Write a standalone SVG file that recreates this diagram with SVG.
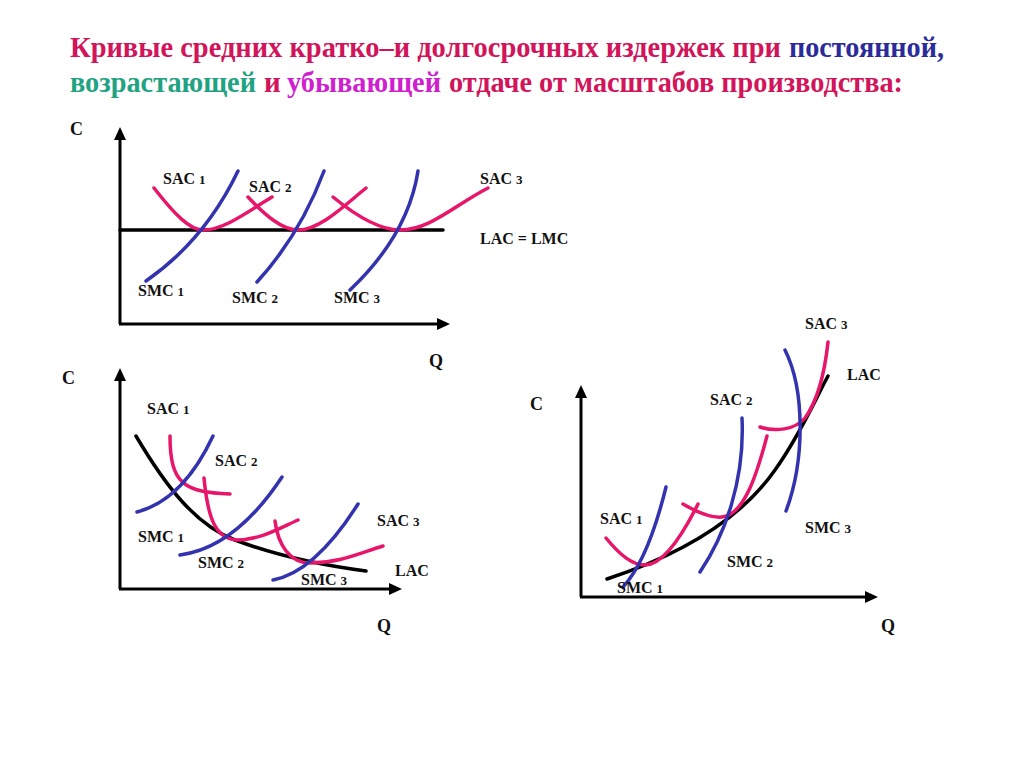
<svg xmlns="http://www.w3.org/2000/svg" width="1024" height="768" viewBox="0 0 1024 768">
<style>
.title{font-family:"Liberation Serif","DejaVu Serif",serif;font-weight:bold;font-size:29px}
.cr{fill:#d2145a}.bl{fill:#2b2b9c}.gr{fill:#1fa382}.mg{fill:#cf1fcf}
.lbl{font-family:"Liberation Serif","DejaVu Serif",serif;font-weight:bold;font-size:16px;fill:#111}
.ax{font-family:"Liberation Serif","DejaVu Serif",serif;font-weight:bold;font-size:18px;fill:#111}
.d{font-size:13px}
.axis{stroke:#000;stroke-width:3;fill:none}
.lac{stroke:#000;stroke-width:3.5;fill:none;stroke-linecap:round}
.sac{stroke:#e8166a;stroke-width:3.5;fill:none;stroke-linecap:round}
.smc{stroke:#3333b0;stroke-width:3.5;fill:none;stroke-linecap:round}
</style>
<defs>
<marker id="arr" markerUnits="userSpaceOnUse" markerWidth="14" markerHeight="12" refX="4" refY="6" orient="auto">
<path d="M0,0 L13,6 L0,12 z" fill="#000"/>
</marker>
</defs>
<rect width="1024" height="768" fill="#fff"/>
<g id="title">
<text class="title cr" x="70" y="57" textLength="711" lengthAdjust="spacingAndGlyphs">Кривые средних кратко–и долгосрочных издержек при</text>
<text class="title bl" x="789" y="57" textLength="155" lengthAdjust="spacingAndGlyphs">постоянной,</text>
<text class="title gr" x="70" y="92" textLength="186" lengthAdjust="spacingAndGlyphs">возрастающей</text>
<text class="title cr" x="264" y="92">и</text>
<text class="title mg" x="287" y="92" textLength="154" lengthAdjust="spacingAndGlyphs">убывающей</text>
<text class="title cr" x="449" y="92" textLength="454" lengthAdjust="spacingAndGlyphs">отдаче от масштабов производства:</text>
</g>
<g id="chart1">
<g id="axes1">
<line class="axis" x1="120" y1="324" x2="120" y2="136" marker-end="url(#arr)"/>
<line class="axis" x1="119" y1="324" x2="441" y2="324" marker-end="url(#arr)"/>
<text class="ax" x="70" y="135">C</text>
<text class="ax" x="429" y="367">Q</text>
</g>
<g id="lac1"><line class="lac" x1="120" y1="230" x2="443" y2="230"/></g>
<g id="sac1a"><path class="sac" d="M154,188 C175,215 190,230 203,230 C225,230 250,210 272,197"/></g>
<g id="sac1b"><path class="sac" d="M248,197 C265,215 282,230 298,230 C320,230 345,205 366,188"/></g>
<g id="sac1c"><path class="sac" d="M333,197 C355,215 380,230 400,230 C430,230 455,205 488,188"/></g>
<g id="smc1a"><path class="smc" d="M146,281 Q205,240 238,171"/></g>
<g id="smc1b"><path class="smc" d="M257,282 Q300,235 324,171"/></g>
<g id="smc1c"><path class="smc" d="M350,290 Q408,235 418,171"/></g>
<g id="labels1">
<text class="lbl" x="163" y="184">SAC <tspan class="d">1</tspan></text>
<text class="lbl" x="249" y="192">SAC <tspan class="d">2</tspan></text>
<text class="lbl" x="480" y="184">SAC <tspan class="d">3</tspan></text>
<text class="lbl" x="480" y="244">LAC = LMC</text>
<text class="lbl" x="138" y="296">SMC <tspan class="d">1</tspan></text>
<text class="lbl" x="232" y="303">SMC <tspan class="d">2</tspan></text>
<text class="lbl" x="334" y="303">SMC <tspan class="d">3</tspan></text>
</g>
</g>
<g id="chart2">
<g id="axes2">
<line class="axis" x1="120" y1="589" x2="120" y2="377" marker-end="url(#arr)"/>
<line class="axis" x1="119" y1="589" x2="393" y2="589" marker-end="url(#arr)"/>
<text class="ax" x="62" y="384">C</text>
<text class="ax" x="377" y="632">Q</text>
</g>
<g id="lac2"><path class="lac" d="M136,436 C165,485 195,525 235,540 C275,555 320,565 366,571"/></g>
<g id="sac2a"><path class="sac" d="M170,436 C170,485 185,492 230,494"/></g>
<g id="sac2b"><path class="sac" d="M204,478 C208,520 216,538 236,540 C260,540 280,528 298,520"/></g>
<g id="sac2c"><path class="sac" d="M275,521 C278,545 290,563 310,563 C340,563 360,553 383,546"/></g>
<g id="smc2a"><path class="smc" d="M137,512 Q183,500 213,436"/></g>
<g id="smc2b"><path class="smc" d="M180,555 Q235,548 282,477"/></g>
<g id="smc2c"><path class="smc" d="M273,580 Q315,572 358,504"/></g>
<g id="labels2">
<text class="lbl" x="147" y="414">SAC <tspan class="d">1</tspan></text>
<text class="lbl" x="215" y="466">SAC <tspan class="d">2</tspan></text>
<text class="lbl" x="377" y="526">SAC <tspan class="d">3</tspan></text>
<text class="lbl" x="138" y="542">SMC <tspan class="d">1</tspan></text>
<text class="lbl" x="198" y="568">SMC <tspan class="d">2</tspan></text>
<text class="lbl" x="301" y="585">SMC <tspan class="d">3</tspan></text>
<text class="lbl" x="395" y="576">LAC</text>
</g>
</g>
<g id="chart3">
<g id="axes3">
<line class="axis" x1="581" y1="597" x2="581" y2="394" marker-end="url(#arr)"/>
<line class="axis" x1="580" y1="597" x2="869" y2="597" marker-end="url(#arr)"/>
<text class="ax" x="530" y="410">C</text>
<text class="ax" x="881" y="632">Q</text>
</g>
<g id="lac3"><path class="lac" d="M607,579 C680,555 740,520 775,470 C800,435 815,400 828,376"/></g>
<g id="sac3a"><path class="sac" d="M606,538 C620,555 632,565 645,565 C665,565 685,530 698,504"/></g>
<g id="sac3b"><path class="sac" d="M683,504 C700,514 712,518 722,517 C745,515 758,470 767,436"/></g>
<g id="sac3c"><path class="sac" d="M760,427 C775,432 795,430 805,418 C818,400 825,370 828,342"/></g>
<g id="smc3a"><path class="smc" d="M623,587 Q648,560 666,487"/></g>
<g id="smc3b"><path class="smc" d="M700,572 C725,535 745,480 742,418"/></g>
<g id="smc3c"><path class="smc" d="M786,511 C805,460 805,390 785,350"/></g>
<g id="labels3">
<text class="lbl" x="805" y="329">SAC <tspan class="d">3</tspan></text>
<text class="lbl" x="847" y="380">LAC</text>
<text class="lbl" x="710" y="405">SAC <tspan class="d">2</tspan></text>
<text class="lbl" x="600" y="524">SAC <tspan class="d">1</tspan></text>
<text class="lbl" x="805" y="533">SMC <tspan class="d">3</tspan></text>
<text class="lbl" x="727" y="567">SMC <tspan class="d">2</tspan></text>
<text class="lbl" x="617" y="593">SMC <tspan class="d">1</tspan></text>
</g>
</g>
</svg>
